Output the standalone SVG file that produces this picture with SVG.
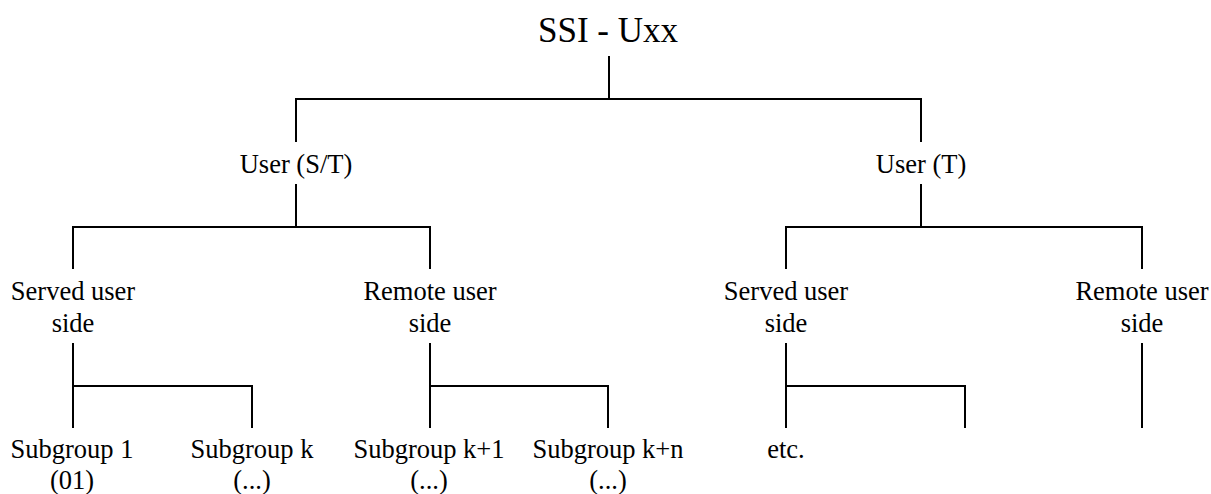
<svg xmlns="http://www.w3.org/2000/svg" width="1211" height="494" viewBox="0 0 1211 494">
<style>
.t{font-family:'Liberation Serif','Times New Roman',Times,serif;font-size:26.5px;fill:#000;text-anchor:middle}
.r{font-size:35px}
.c{fill:none;stroke:#000;stroke-width:2}
</style>
<rect width="1211" height="494" fill="#fff"/>
<g id="connectors">
<path class="c" d="M609 56V99M296 142V99H921V142"/>
<path class="c" d="M296 184V227M73 269V227H430V269"/>
<path class="c" d="M921 184V227M786 269V227H1142V269"/>
<path class="c" d="M73 343V428M73 386H252V428"/>
<path class="c" d="M430 343V428M430 386H608V428"/>
<path class="c" d="M786 343V428M786 386H965V428"/>
<path class="c" d="M1142 343V428"/>
</g>
<g id="root"><text class="t r" x="608" y="42">SSI - Uxx</text></g>
<g id="user-st"><text class="t" x="296" y="173">User (S/T)</text></g>
<g id="user-t"><text class="t" x="921" y="173">User (T)</text></g>
<g id="served-st"><text class="t" x="73" y="300">Served user</text><text class="t" x="73" y="332">side</text></g>
<g id="remote-st"><text class="t" x="430" y="300">Remote user</text><text class="t" x="430" y="332">side</text></g>
<g id="served-t"><text class="t" x="786" y="300">Served user</text><text class="t" x="786" y="332">side</text></g>
<g id="remote-t"><text class="t" x="1142" y="300">Remote user</text><text class="t" x="1142" y="332">side</text></g>
<g id="sub1"><text class="t" x="72" y="458">Subgroup 1</text><text class="t" x="72" y="489">(01)</text></g>
<g id="subk"><text class="t" x="252" y="458">Subgroup k</text><text class="t" x="252" y="489">(...)</text></g>
<g id="subk1"><text class="t" x="429" y="458">Subgroup k+1</text><text class="t" x="429" y="489">(...)</text></g>
<g id="subkn"><text class="t" x="608" y="458">Subgroup k+n</text><text class="t" x="608" y="489">(...)</text></g>
<g id="etc"><text class="t" x="786" y="458">etc.</text></g>
</svg>
